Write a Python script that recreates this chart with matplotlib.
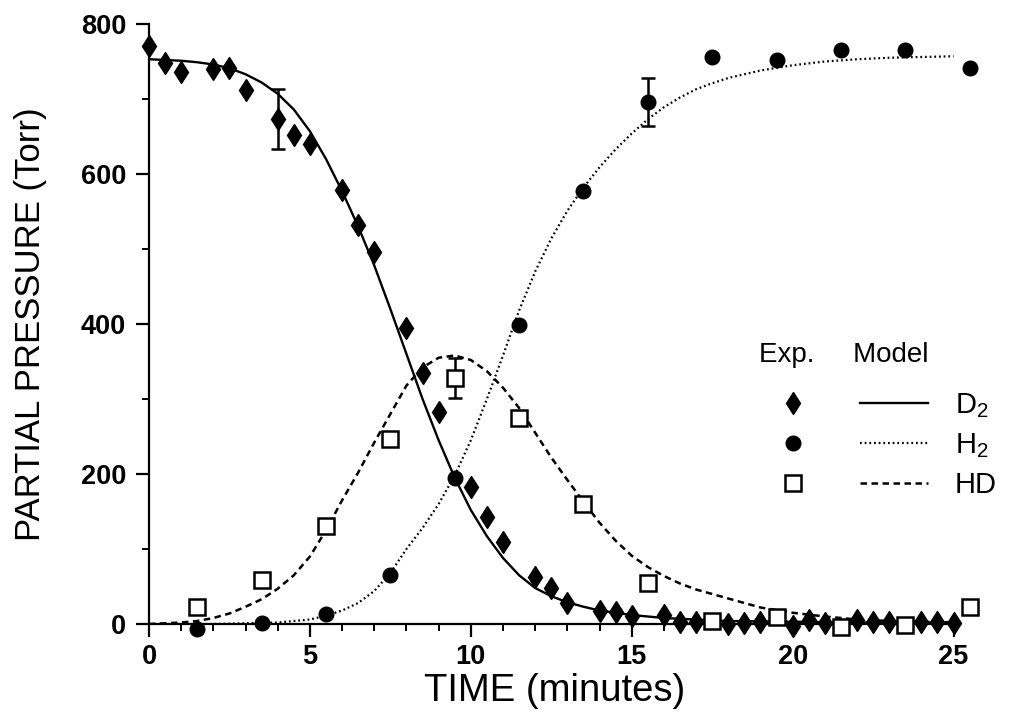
import matplotlib
matplotlib.use("Agg")
import matplotlib.pyplot as plt
from matplotlib.legend_handler import HandlerTuple
from matplotlib.ticker import MultipleLocator

plt.rcParams["font.family"] = ["Liberation Sans", "DejaVu Sans"]
plt.rcParams["mathtext.fontset"] = "custom"
plt.rcParams["mathtext.rm"] = "Liberation Sans"
plt.rcParams["mathtext.default"] = "regular"

d2_t = [0, 0.5, 1, 2, 2.5, 3, 4, 4.5, 5, 6, 6.5, 7, 8, 8.5, 9, 10, 10.5, 11,
        12, 12.5, 13, 14, 14.5, 15, 16, 16.5, 17, 18, 18.5, 19, 20, 20.5, 21,
        22, 22.5, 23, 24, 24.5, 25]
d2_p = [771, 748, 736, 740, 741, 712, 673, 652, 640, 579, 532, 496, 395, 335,
        283, 183, 143, 109, 63, 48, 28, 17, 16, 11, 12, 3, 3, 0, 2, 3, -2, 5,
        1, 5, 3, 3, 3, 3, 2]

h_t = [1.5, 3.5, 5.5, 7.5, 9.5, 11.5, 13.5, 15.5, 17.5, 19.5, 21.5, 23.5, 25.5]
h2_p = [-7, 1, 14, 66, 195, 399, 577, 696, 756, 752, 765, 765, 741]
hd_p = [23, 59, 131, 247, 328, 275, 160, 55, 4, 9, -4, -1, 23]

# error bars
err_t = [4, 9.5, 15.5]
err_p = [673, 328, 696]
err_size = [40, 27, 32]

# model curves
d2_model_t = [0, 1, 1.5, 2, 2.5, 3, 3.5, 4, 4.5, 5, 5.5, 6, 6.5, 7, 7.5, 8,
              8.5, 9, 9.5, 10, 10.5, 11, 11.5, 12, 12.5, 13, 13.5, 14, 15, 16,
              17, 18, 20, 22, 25]
d2_model_p = [753, 751, 749, 746, 741, 733, 722, 707, 686, 657, 620, 577, 530,
              478, 420, 360, 300, 245, 195, 152, 117, 88, 65, 48, 37, 29, 23,
              18, 12, 8, 6, 4, 3, 2, 2]

h2_model_t = [0, 2, 3, 4, 5, 5.5, 6, 6.5, 7, 7.5, 8, 8.5, 9, 9.5, 10, 10.5,
              11, 11.5, 12, 12.5, 13, 13.5, 14, 14.5, 15, 15.5, 16, 16.5, 17,
              17.5, 18, 19, 20, 21, 22, 23, 24, 25]
h2_model_p = [0, 0, 1, 2, 6, 11, 18, 28, 44, 68, 100, 128, 160, 198, 245, 300,
              358, 418, 470, 514, 551, 582, 609, 633, 654, 673, 689, 702, 713,
              721, 728, 738, 745, 750, 753, 755, 756, 757]

hd_model_t = [0, 1, 1.5, 2, 2.5, 3, 3.5, 4, 4.5, 5, 5.5, 6, 6.5, 7, 7.5, 8,
              8.5, 9, 9.5, 10, 10.5, 11, 11.5, 12, 12.5, 13, 13.5, 14, 14.5,
              15, 15.5, 16, 16.5, 17, 18, 19, 20, 21, 22, 23, 24, 25]
hd_model_p = [0, 2, 4, 8, 14, 23, 33, 47, 65, 90, 125, 165, 202, 242, 280, 318,
              342, 355, 358, 352, 337, 315, 288, 255, 222, 192, 163, 135, 111,
              91, 76, 64, 54, 46, 34, 22, 15, 10, 6, 4, 3, 2]

fig = plt.figure(figsize=(10.35, 7.13), dpi=100)
ax = fig.add_axes([149 / 1035, 89 / 713, 811 / 1035, 600 / 713])

line_d2, = ax.plot(d2_model_t, d2_model_p, color="black", lw=1.7, ls="-")
line_h2, = ax.plot(h2_model_t, h2_model_p, color="black", lw=1.6, ls=(0, (0.8, 1.3)))
line_hd, = ax.plot(hd_model_t, hd_model_p, color="black", lw=1.8, ls=(0, (2.6, 1.8)))

ax.errorbar(err_t, err_p, yerr=err_size, fmt="none", ecolor="black",
            elinewidth=1.8, capsize=4.8, capthick=1.8, zorder=3)

pts_d2, = ax.plot(d2_t, d2_p, ls="none", marker="d", ms=11.5, color="black",
                  clip_on=False, zorder=4)
pts_h2, = ax.plot(h_t, h2_p, ls="none", marker="o", ms=10.5, color="black",
                  clip_on=False, zorder=4)
pts_hd, = ax.plot(h_t, hd_p, ls="none", marker="s", ms=11, mfc="white",
                  mec="black", mew=1.8, clip_on=False, zorder=5)

ax.set_xlim(0, 25.2)
ax.set_ylim(0, 800)
for side in ["top", "right"]:
    ax.spines[side].set_visible(False)
for side in ["left", "bottom"]:
    ax.spines[side].set_linewidth(1.6)

ax.xaxis.set_major_locator(MultipleLocator(5))
ax.xaxis.set_minor_locator(MultipleLocator(1))
ax.yaxis.set_major_locator(MultipleLocator(200))
ax.yaxis.set_minor_locator(MultipleLocator(100))
ax.tick_params(which="major", length=9.5, width=1.6, labelsize=19.5, pad=5)
ax.tick_params(which="minor", length=5, width=1.4)
ax.tick_params(axis="y", which="major", pad=7)
for lab in ax.get_xticklabels() + ax.get_yticklabels():
    lab.set_fontweight("bold")

ax.set_xlabel("TIME (minutes)", fontsize=27.5, labelpad=2)
ax.set_ylabel("PARTIAL PRESSURE (Torr)", fontsize=25, labelpad=24)

leg = ax.legend([(pts_d2, line_d2), (pts_h2, line_h2), (pts_hd, line_hd)],
                [r"D$_2$", r"H$_2$", "HD"],
                handler_map={tuple: HandlerTuple(ndivide=None, pad=1.13)},
                title="Exp.     Model", alignment="left",
                fontsize=21, title_fontsize=20, frameon=False,
                handlelength=5.8, handletextpad=0.9, labelspacing=0.38,
                loc="upper left", bbox_to_anchor=(0.738, 0.49),
                borderaxespad=0)
leg.get_title().set_ha("left")
# more room between the column heads and the first row
leg._legend_box.sep = 17

fig.savefig("out.png", dpi=100)
